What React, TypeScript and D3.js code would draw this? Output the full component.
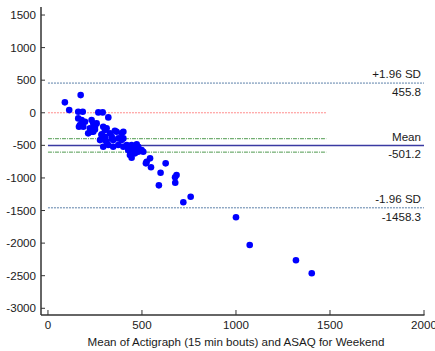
import React from "react";
import * as d3 from "d3";

// Bland-Altman: mean of the two methods vs. their difference
const meanVals = [
  90, 113, 174, 161, 185, 268, 291, 321, 161, 179, 170, 188, 232, 241, 223, 250,
  259, 214, 241, 294, 303, 286, 303, 330, 339, 365, 392, 277, 312, 347, 374, 392,
  294, 321, 347, 374, 401, 419, 445, 472, 427, 454, 480, 436, 463, 498, 543, 525,
  521, 548, 599, 626, 590, 684, 676, 677, 720, 759, 1000, 1073, 1319, 1403,
  445, 489, 445, 480, 507, 401, 356, 401, 303, 339, 285, 250, 232, 312, 197, 165,
];
const diffVals = [
  160, 41, 271, 15, 15, 6, 6, -71, -86, -112, -189, -215, -112, -163, -239, -215,
  -163, -316, -291, -215, -265, -331, -368, -316, -368, -291, -316, -419, -445, -419, -393, -419,
  -521, -495, -521, -495, -521, -495, -495, -485, -572, -572, -521, -649, -623, -572, -699, -752,
  -776, -837, -920, -776, -1114, -955, -990, -1073, -1374, -1288, -1604, -2029, -2264, -2463,
  -546, -572, -690, -598, -598, -393, -276, -291, -419, -393, -342, -255, -291, -239, -138, -215,
];

const meanDiff = -501.2;
const upperLoA = 455.8;
const lowerLoA = -1458.3;
const ciUpper = -398;
const ciLower = -604;
const refEnd = 1480;

const xTicks = [0, 500, 1000, 1500, 2000];
const yTicks = [1500, 1000, 500, 0, -500, -1000, -1500, -2000, -2500, -3000];
const xTitle = "Mean of Actigraph (15 min bouts) and ASAQ for Weekend";

export default function App() {
  const width = 435;
  const height = 351;
  const x = d3.scaleLinear().domain([-37, 2000]).range([41, 424]);
  const y = d3.scaleLinear().domain([-3103, 1623]).range([315, 7]);
  const font = "'Liberation Sans', Arial, sans-serif";
  const fs = 11.6;
  const axisColor = "#333333";
  const textColor = "#1a1a1a";
  const xR = x(2000);

  const hline = (v: number, x2: number, stroke: string, dash: string | undefined, sw: number) => (
    <line x1={x(0)} x2={x2} y1={y(v)} y2={y(v)} stroke={stroke} strokeWidth={sw} strokeDasharray={dash} />
  );

  return (
    <svg width={width} height={height} style={{ position: "absolute", left: 0, top: 0, background: "#fff" }}>
      {/* reference lines */}
      {hline(0, x(refEnd), "#ff8c8c", "2,1", 1)}
      {hline(ciUpper, x(refEnd), "#4f9a4f", "4,1,1,1", 1)}
      {hline(ciLower, x(refEnd), "#4f9a4f", "4,1,1,1", 1)}
      {hline(upperLoA, xR, "#5a7fa8", "2,1", 1)}
      {hline(lowerLoA, xR, "#5a7fa8", "2,1", 1)}
      {hline(meanDiff, xR, "#3a3aa2", undefined, 1.6)}

      {/* points */}
      {meanVals.map((m, i) => (
        <circle key={i} cx={x(m)} cy={y(diffVals[i])} r={3.3} fill="#0000ff" />
      ))}

      {/* line labels */}
      <g fontFamily={font} fontSize={fs} fill={textColor} textAnchor="end">
        <text x={421} y={y(upperLoA) - 5}>+1.96 SD</text>
        <text x={421} y={y(upperLoA) + 13}>{upperLoA.toFixed(1)}</text>
        <text x={421} y={y(meanDiff) - 4}>Mean</text>
        <text x={421} y={y(meanDiff) + 13}>{meanDiff.toFixed(1)}</text>
        <text x={421} y={y(lowerLoA) - 5}>-1.96 SD</text>
        <text x={421} y={y(lowerLoA) + 13}>{lowerLoA.toFixed(1)}</text>
      </g>

      {/* y axis */}
      <line x1={41} x2={41} y1={7} y2={315} stroke={axisColor} strokeWidth={1.5} />
      {yTicks.map((t) => (
        <g key={t}>
          <line x1={41} x2={45} y1={y(t)} y2={y(t)} stroke={axisColor} strokeWidth={1} />
          <text x={36} y={y(t) + 4} textAnchor="end" fontFamily={font} fontSize={fs} fill={textColor}>
            {t}
          </text>
        </g>
      ))}

      {/* x axis */}
      <line x1={41} x2={xR + 0.5} y1={315} y2={315} stroke={axisColor} strokeWidth={1.5} />
      {xTicks.map((t) => (
        <g key={t}>
          <line x1={x(t)} x2={x(t)} y1={315} y2={310} stroke={axisColor} strokeWidth={1} />
          <text x={x(t)} y={329} textAnchor="middle" fontFamily={font} fontSize={fs} fill={textColor}>
            {t}
          </text>
        </g>
      ))}
      <text x={x(1000)} y={346} textAnchor="middle" fontFamily={font} fontSize={fs} fill={textColor}>
        {xTitle}
      </text>
    </svg>
  );
}
